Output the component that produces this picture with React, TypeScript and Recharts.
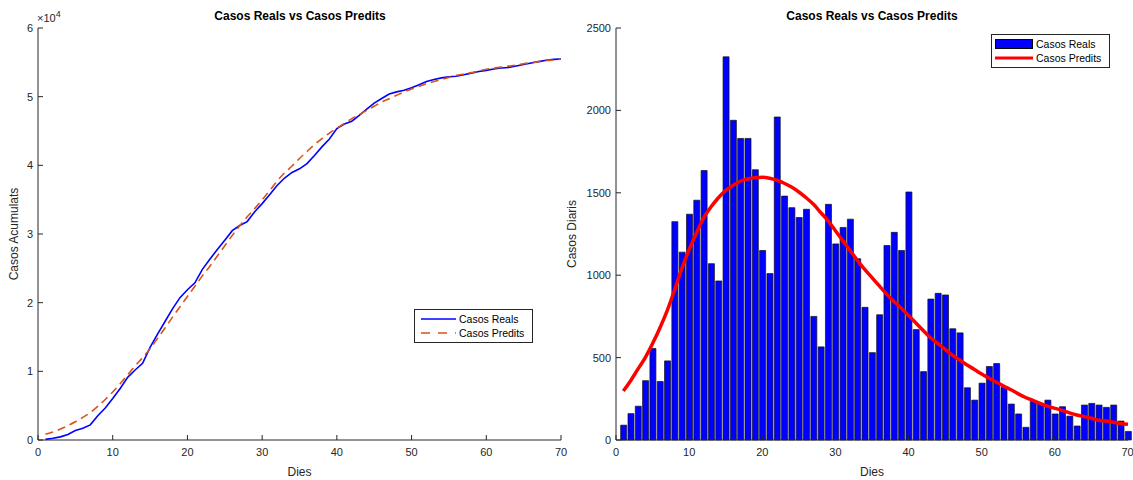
import { ComposedChart, Line, Bar, XAxis, YAxis, Legend } from 'recharts'

const FONT = '"Liberation Sans", Arial, Helvetica, sans-serif'
const AXIS = '#262626'

const DAYS = [
  1, 2, 3, 4, 5, 6, 7, 8, 9, 10, 11, 12, 13, 14, 15, 16, 17, 18, 19, 20,
  21, 22, 23, 24, 25, 26, 27, 28, 29, 30, 31, 32, 33, 34, 35, 36, 37, 38, 39, 40,
  41, 42, 43, 44, 45, 46, 47, 48, 49, 50, 51, 52, 53, 54, 55, 56, 57, 58, 59, 60,
  61, 62, 63, 64, 65, 66, 67, 68, 69, 70,
]

// daily cases (bars)
const dailyReal = [
  90, 160, 205, 360, 555, 355, 480, 1325, 1140, 1370, 1455, 1635, 1070, 965, 2325, 1940, 1830, 1830, 1640, 1150,
  1010, 1960, 1480, 1410, 1350, 1400, 750, 565, 1430, 1190, 1290, 1340, 1100, 805, 530, 760, 1180, 1260, 1150, 1505,
  670, 415, 855, 890, 880, 675, 650, 317, 242, 345, 446, 464, 320, 218, 158, 77, 236, 222, 242, 158,
  202, 145, 85, 212, 222, 212, 198, 212, 115, 52,
]

// fitted daily curve (red)
const dailyPred = [
  297, 360, 430, 500, 585, 680, 785, 910, 1040, 1155, 1255, 1350, 1415, 1470, 1515, 1545, 1570, 1584, 1592, 1594,
  1588, 1576, 1558, 1535, 1505, 1470, 1430, 1380, 1330, 1270, 1210, 1150, 1090, 1035, 985, 935, 885, 840, 800, 755,
  710, 665, 620, 585, 550, 515, 485, 455, 428, 400, 375, 350, 327, 305, 280, 258, 240, 222, 205, 192,
  180, 165, 152, 142, 132, 120, 115, 108, 100, 95,
]

// accumulated cases
const cumReal = [
  90, 250, 455, 815, 1370, 1725, 2205, 3530, 4670, 6040, 7495, 9130, 10200, 11165, 13490, 15430, 17260, 19090, 20730, 21880,
  22890, 24850, 26330, 27740, 29090, 30490, 31240, 31805, 33235, 34425, 35715, 37055, 38155, 38960, 39490, 40250, 41430, 42690, 43840, 45345,
  46015, 46430, 47285, 48175, 49055, 49730, 50380, 50697, 50939, 51284, 51730, 52194, 52514, 52732, 52890, 52967, 53203, 53425, 53667, 53825,
  54027, 54172, 54257, 54469, 54691, 54903, 55101, 55313, 55428, 55480,
]

const cumPred = [
  830, 1150, 1600, 2100, 2650, 3300, 4000, 4900, 5900, 7000, 8200, 9500, 10800, 12000, 13300, 14800, 16300, 17900, 19400, 20900,
  22400, 23900, 25300, 26800, 28300, 29800, 31200, 32500, 33700, 35000, 36300, 37700, 38900, 39900, 41000, 42000, 43000, 43900, 44700, 45400,
  46100, 46800, 47400, 48000, 48600, 49200, 49700, 50200, 50700, 51100, 51500, 51900, 52200, 52500, 52800, 53100, 53300, 53500, 53750, 54000,
  54150, 54300, 54450, 54600, 54800, 54950, 55100, 55250, 55350, 55450,
]

const dayTicks = [0, 10, 20, 30, 40, 50, 60, 70]
const cumTicks = [0, 10000, 20000, 30000, 40000, 50000, 60000]
const dailyTicks = [0, 500, 1000, 1500, 2000, 2500]

const cumData = DAYS.map((d, i) => ({ day: d, real: cumReal[i], pred: cumPred[i] }))
const dailyData = DAYS.map((d, i) => ({ day: d, real: dailyReal[i], pred: dailyPred[i] }))

const tickStyle = { fontSize: 11, fill: AXIS, fontFamily: FONT }
const labelStyle = { fontSize: 12, fill: AXIS, fontFamily: FONT, textAnchor: 'middle' as const }

function LegendRow({ children, label }: { children: React.ReactNode; label: string }) {
  return (
    <div style={{ display: 'flex', alignItems: 'center', height: 14 }}>
      <svg width={42} height={14} style={{ display: 'block' }}>{children}</svg>
      <span style={{ marginLeft: 2 }}>{label}</span>
    </div>
  )
}

function CumLegend() {
  return (
    <div style={{ border: `1px solid ${AXIS}`, background: '#fff', width: 117, padding: '2px 0', fontSize: 10.5, fontFamily: FONT, color: '#000' }}>
      <LegendRow label="Casos Reals">
        <line x1={6} x2={41} y1={7} y2={7} stroke="#0000ff" strokeWidth={1.5} />
      </LegendRow>
      <LegendRow label="Casos Predits">
        <line x1={6} x2={41} y1={7} y2={7} stroke="#d95319" strokeWidth={1.5} strokeDasharray="9 8" />
      </LegendRow>
    </div>
  )
}

function DailyLegend() {
  return (
    <div style={{ border: `1px solid ${AXIS}`, background: '#fff', width: 117, padding: '2px 0', fontSize: 10.5, fontFamily: FONT, color: '#000' }}>
      <LegendRow label="Casos Reals">
        <rect x={3.5} y={2.5} width={37} height={9} fill="#0000ff" stroke="#000" strokeWidth={1} />
      </LegendRow>
      <LegendRow label="Casos Predits">
        <line x1={3} x2={41} y1={7} y2={7} stroke="#ff0000" strokeWidth={3} />
      </LegendRow>
    </div>
  )
}

const titleStyle: React.CSSProperties = {
  position: 'absolute', top: 9, fontFamily: FONT, fontWeight: 700, fontSize: 12,
  color: '#000', transform: 'translateX(-50%)', whiteSpace: 'nowrap',
}

export default function App() {
  return (
    <div style={{ position: 'absolute', left: 0, top: 0, width: 1133, height: 480, overflow: 'hidden', background: '#fff' }}>
      {/* left: accumulated */}
      <div style={{ position: 'absolute', left: 0, top: 0 }}>
        <ComposedChart width={580} height={480} data={cumData} margin={{ top: 28, right: 19, left: 0, bottom: 0 }}>
          <XAxis
            dataKey="day" type="number" domain={[0, 70]} ticks={dayTicks}
            height={40} tickSize={-5} tickMargin={13} tick={tickStyle}
            stroke={AXIS}
            label={{ value: 'Dies', position: 'insideBottom', offset: 4, style: labelStyle }}
          />
          <YAxis
            type="number" domain={[0, 60000]} ticks={cumTicks} width={38}
            tickSize={-5} tickMargin={10} tick={tickStyle} stroke={AXIS}
            tickFormatter={(v: number) => String(v / 10000)}
            label={{ value: 'Casos Acumulats', angle: -90, position: 'insideLeft', offset: 14, style: labelStyle }}
          />
          <Legend
            layout="horizontal" verticalAlign="middle"
            wrapperStyle={{ left: 414, top: 309, width: 'auto' }}
            content={() => <CumLegend />}
          />
          <Line dataKey="real" name="Casos Reals" stroke="#0000ff" strokeWidth={1.6} dot={false} type="linear" isAnimationActive={false} />
          <Line dataKey="pred" name="Casos Predits" stroke="#d95319" strokeWidth={1.6} strokeDasharray="8 5" dot={false} type="monotone" isAnimationActive={false} />
        </ComposedChart>
      </div>
      <div style={{ ...titleStyle, left: 300 }}>Casos Reals vs Casos Predits</div>
      <div style={{ position: 'absolute', left: 37, top: 9, fontFamily: FONT, fontSize: 11, color: AXIS }}>
        ×10<sup style={{ fontSize: 9 }}>4</sup>
      </div>

      {/* right: daily */}
      <div style={{ position: 'absolute', left: 560, top: 0 }}>
        <ComposedChart width={573} height={480} data={dailyData} margin={{ top: 28, right: 5, left: 0, bottom: 0 }}>
          <XAxis
            dataKey="day" type="number" domain={[0, 70]} ticks={dayTicks}
            height={40} tickSize={-5} tickMargin={13} tick={tickStyle}
            stroke={AXIS}
            label={{ value: 'Dies', position: 'insideBottom', offset: 4, style: labelStyle }}
          />
          <YAxis
            type="number" domain={[0, 2500]} ticks={dailyTicks} width={56}
            tickSize={-5} tickMargin={10} tick={tickStyle} stroke={AXIS}
            label={{ value: 'Casos Diaris', angle: -90, position: 'insideLeft', offset: 12, style: labelStyle }}
          />
          <Legend
            layout="horizontal" verticalAlign="middle"
            wrapperStyle={{ left: 431, top: 34, width: 'auto' }}
            content={() => <DailyLegend />}
          />
          <Bar dataKey="real" name="Casos Reals" fill="#0000ff" stroke="#111" strokeWidth={0.7} barSize={6} isAnimationActive={false} />
          <Line dataKey="pred" name="Casos Predits" stroke="#ff0000" strokeWidth={3.5} dot={false} type="monotone" isAnimationActive={false} />
        </ComposedChart>
      </div>
      <div style={{ ...titleStyle, left: 872 }}>Casos Reals vs Casos Predits</div>
    </div>
  )
}
